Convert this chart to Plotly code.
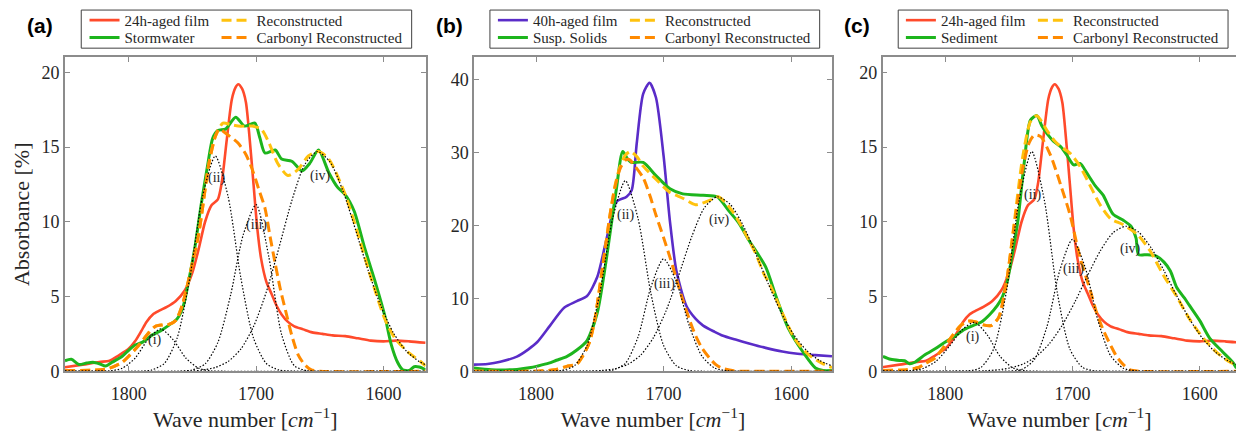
import plotly.graph_objects as go

# ---------------- data ----------------
# 24h-aged film (panels a and c)
FILM24_WN = [1850, 1836, 1823, 1815, 1808, 1800, 1795, 1790, 1786, 1781, 1776, 1770, 1763, 1756,
             1750, 1745, 1740, 1735, 1730, 1727, 1723, 1719, 1716, 1714, 1711, 1708, 1705, 1702,
             1699, 1696, 1692, 1688, 1684, 1680, 1675, 1670, 1663, 1656, 1648, 1640, 1630, 1620,
             1610, 1600, 1590, 1580, 1567]
FILM24_ABS = [0.26, 0.44, 0.62, 0.7, 1.05, 1.5, 2.0, 2.7, 3.3, 3.8, 4.05, 4.3, 4.7, 5.4,
              6.6, 8.2, 10.0, 11.1, 11.5, 12.6, 15.5, 18.2, 19.0, 19.2, 18.9, 18.0, 15.5, 12.5,
              9.5, 7.5, 6.0, 5.2, 4.4, 3.8, 3.3, 3.0, 2.8, 2.6, 2.5, 2.4, 2.35, 2.2,
              2.05, 2.0, 2.05, 2.0, 1.9]

# Panel (a): Stormwater
STORM_WN = [1850, 1845, 1839, 1833, 1828, 1823, 1818, 1813, 1805, 1800, 1795, 1789, 1782, 1775,
            1768, 1762, 1757, 1753, 1748, 1743, 1738, 1734, 1730, 1724, 1716, 1709, 1701, 1697,
            1693, 1685, 1680, 1672, 1664, 1658, 1651, 1643, 1636, 1630, 1623, 1615, 1607, 1599,
            1594, 1589, 1585, 1580, 1576, 1572, 1567]
STORM_ABS = [0.7, 0.8, 0.45, 0.55, 0.6, 0.5, 0.35, 0.6, 1.0, 1.4, 1.75, 1.95, 2.4, 2.7,
             3.1, 3.5, 4.4, 6.0, 8.3, 11.2, 13.8, 15.6, 16.1, 16.2, 17.0, 16.4, 16.6, 15.6,
             14.6, 14.8, 14.2, 14.05, 13.4, 13.9, 14.8, 13.3, 12.3, 11.8, 10.7, 8.3, 6.1, 3.7,
             1.8, 0.6, 0.1, 0.05, 0.3, 0.28, 0.1]
RECON_A_WN = [1850, 1825, 1815, 1805, 1800, 1792, 1784, 1779, 1773, 1768, 1763, 1758, 1753, 1745,
              1737, 1732, 1726, 1720, 1714, 1708, 1703, 1696, 1690, 1683, 1675, 1667, 1659, 1651,
              1643, 1630, 1620, 1610, 1599, 1591, 1581, 1571, 1567]
RECON_A_ABS = [0.05, 0.08, 0.2, 0.6, 1.0, 1.74, 2.6, 3.0, 3.1, 3.15, 3.4, 4.4, 6.1, 9.2,
               13.9, 15.7, 16.6, 16.5, 16.4, 16.4, 16.4, 16.2, 15.3, 13.9, 13.1, 13.5, 14.4, 14.7,
               14.2, 11.8, 9.15, 6.3, 3.5, 2.2, 1.3, 0.65, 0.35]
CARB_A_WN = [1850, 1825, 1815, 1805, 1800, 1792, 1784, 1779, 1773, 1768, 1763, 1758, 1753, 1745,
             1737, 1732, 1729, 1722, 1714, 1708, 1703, 1698, 1693, 1689, 1685, 1681, 1677, 1672,
             1667, 1662, 1657, 1650, 1567]
CARB_A_ABS = [0.05, 0.08, 0.2, 0.6, 1.0, 1.74, 2.6, 3.0, 3.1, 3.15, 3.4, 4.4, 6.1, 9.2,
              13.9, 15.7, 16.2, 15.8, 15.25, 14.5, 13.5, 12.2, 10.9, 9.0, 7.2, 5.5, 4.1, 2.4,
              1.1, 0.45, 0.1, 0.0, 0.0]
G1_A_WN = [1850, 1825, 1815, 1805, 1795, 1785, 1775, 1765, 1755, 1745, 1735, 1725, 1567]
G1_A_ABS = [0, 0, 0.02, 0.2, 0.87, 2.1, 2.83, 2.1, 0.87, 0.2, 0.02, 0, 0]
G2_A_WN = [1850, 1790, 1782, 1772, 1762, 1752, 1742, 1732, 1722, 1712, 1702, 1692, 1682, 1670, 1567]
G2_A_ABS = [0, 0, 0.08, 0.52, 2.21, 6.26, 11.7, 14.4, 11.7, 6.26, 2.21, 0.52, 0.08, 0, 0]
G3_A_WN = [1850, 1760, 1750, 1740, 1730, 1720, 1710, 1700, 1690, 1680, 1670, 1660, 1650, 1567]
G3_A_ABS = [0, 0, 0.09, 0.49, 1.92, 5.1, 9.16, 11.15, 7.64, 2.46, 0.37, 0.03, 0, 0]
G4_A_WN = [1850, 1752, 1742, 1732, 1722, 1712, 1702, 1692, 1682, 1672, 1662, 1652, 1642, 1632,
           1622, 1612, 1602, 1592, 1582, 1572, 1567]
G4_A_ABS = [0, 0.01, 0.08, 0.25, 0.65, 1.48, 2.99, 5.3, 8.28, 11.4, 13.8, 14.7, 14.0, 12.1,
            9.47, 6.73, 4.34, 2.53, 1.34, 0.65, 0.43]

# Panel (b): 40h-aged film and Susp. Solids
FILM40_WN = [1849, 1838, 1828, 1815, 1806, 1799, 1789, 1778, 1768, 1760, 1752, 1745, 1737, 1729,
             1725, 1721, 1716, 1711, 1706, 1700, 1695, 1690, 1682, 1675, 1669, 1660, 1654, 1643,
             1633, 1620, 1607, 1595, 1581, 1568]
FILM40_ABS = [0.9, 1.0, 1.3, 2.0, 3.0, 4.0, 6.25, 8.7, 9.6, 10.3, 12.9, 17.9, 23.2, 23.9,
              24.8, 31.3, 38.0, 39.5, 37.5, 29.5, 20.5, 13.8, 8.9, 7.2, 6.25, 5.4, 4.9, 4.3,
              3.8, 3.2, 2.7, 2.4, 2.2, 2.05]
SUSP_WN = [1849, 1835, 1815, 1804, 1799, 1790, 1784, 1776, 1768, 1760, 1752, 1745, 1737, 1732,
           1728, 1725, 1716, 1706, 1695, 1685, 1669, 1658, 1649, 1641, 1633, 1620, 1612, 1602,
           1591, 1581, 1575, 1568]
SUSP_ABS = [0.45, 0.2, 0.25, 0.5, 0.7, 1.1, 1.5, 2.0, 2.9, 4.2, 8.0, 15.2, 25.0, 30.1,
            29.0, 28.6, 28.6, 26.8, 25.0, 24.3, 24.1, 23.9, 22.0, 20.3, 17.9, 14.3, 10.3, 5.8,
            2.7, 0.45, 0.1, 0.1]
RECON_B_WN = [1849, 1800, 1785, 1776, 1768, 1762, 1758, 1754, 1750, 1746, 1742, 1738, 1734, 1730,
              1726, 1721, 1716, 1706, 1695, 1685, 1675, 1670, 1664, 1657, 1652, 1646, 1640, 1633,
              1628, 1621, 1617, 1607, 1597, 1586, 1576, 1568]
RECON_B_ABS = [0, 0, 0.2, 0.67, 1.0, 2.5, 4.0, 7.0, 11.6, 16.5, 21.4, 25.5, 28.1, 29.6,
               30.1, 29.4, 28.1, 26.3, 24.5, 23.7, 22.8, 23.0, 23.4, 23.9, 23.2, 21.9, 20.2, 17.9,
               16.2, 13.2, 12.0, 8.0, 4.4, 2.2, 1.1, 0.5]
CARB_B_WN = [1849, 1800, 1785, 1776, 1768, 1762, 1758, 1754, 1750, 1746, 1742, 1738, 1734, 1730,
             1727, 1722, 1716, 1711, 1706, 1700, 1695, 1690, 1685, 1680, 1675, 1670, 1664, 1659,
             1654, 1645, 1635, 1568]
CARB_B_ABS = [0, 0, 0.2, 0.67, 1.0, 2.5, 4.0, 7.0, 11.6, 16.5, 21.4, 25.3, 27.8, 28.9,
              29.0, 28.0, 26.5, 24.2, 21.4, 18.3, 15.6, 12.7, 9.8, 7.2, 4.9, 3.2, 1.8, 0.9,
              0.4, 0.05, 0, 0]
G2_B_WN = [1849, 1790, 1780, 1770, 1760, 1750, 1740, 1730, 1720, 1710, 1700, 1690, 1680, 1670, 1568]
G2_B_ABS = [0, 0, 0.1, 0.74, 3.53, 10.7, 20.9, 26.1, 20.9, 10.7, 3.53, 0.74, 0.1, 0, 0]
G3_B_WN = [1849, 1750, 1740, 1730, 1720, 1710, 1700, 1690, 1680, 1670, 1660, 1650, 1640, 1568]
G3_B_ABS = [0, 0, 0.14, 1.08, 4.7, 11.5, 15.4, 12.3, 6.3, 2.08, 0.44, 0.06, 0, 0]
G4_B_WN = [1849, 1758, 1748, 1738, 1728, 1718, 1708, 1698, 1688, 1678, 1668, 1658, 1648, 1638,
           1628, 1618, 1608, 1598, 1588, 1578, 1568]
G4_B_ABS = [0, 0.03, 0.11, 0.35, 0.94, 2.2, 4.6, 8.3, 13.2, 18.4, 22.4, 23.9, 22.9, 20.1,
            16.2, 12.0, 8.1, 5.0, 2.87, 1.5, 0.72]

# Panel (c): Sediment
SED_WN = [1849, 1843, 1836, 1832, 1828, 1824, 1816, 1808, 1800, 1793, 1785, 1777, 1772, 1765,
          1759, 1755, 1751, 1747, 1743, 1738, 1733, 1728, 1724, 1720, 1715, 1709, 1704, 1699,
          1694, 1689, 1682, 1676, 1668, 1660, 1654, 1650, 1648, 1641, 1634, 1628, 1623, 1618,
          1612, 1608, 1600, 1592, 1582, 1574, 1571]
SED_ABS = [1.0, 0.8, 0.72, 0.7, 0.5, 0.6, 1.1, 1.5, 1.96, 2.3, 2.8, 3.1, 3.27, 3.8,
           4.4, 5.0, 6.1, 8.0, 10.0, 13.9, 16.8, 17.1, 16.4, 15.9, 15.4, 15.0, 14.4, 13.8,
           13.9, 13.3, 12.4, 11.8, 10.5, 10.1, 9.7, 8.9, 7.8, 7.8, 7.7, 7.3, 6.7, 5.6,
           4.9, 4.4, 3.4, 2.2, 1.3, 0.6, 0.2]
RECON_C_WN = [1849, 1830, 1821, 1815, 1808, 1798, 1788, 1782, 1776, 1770, 1764, 1758, 1752, 1746,
              1739, 1733, 1728, 1720, 1714, 1709, 1702, 1694, 1686, 1678, 1670, 1660, 1649, 1639,
              1629, 1618, 1608, 1597, 1587, 1577, 1571]
RECON_C_ABS = [0.05, 0.1, 0.25, 0.55, 0.9, 1.96, 3.05, 3.35, 3.3, 3.1, 3.05, 3.6, 5.9, 9.8,
               14.4, 16.7, 17.1, 16.1, 15.4, 15.0, 14.6, 13.7, 12.4, 11.1, 10.2, 9.8, 9.15, 8.06,
               6.5, 5.0, 3.5, 2.2, 1.3, 0.65, 0.4]
CARB_C_WN = [1849, 1830, 1821, 1815, 1808, 1798, 1788, 1782, 1776, 1770, 1764, 1758, 1752, 1746,
             1739, 1734, 1730, 1725, 1717, 1709, 1702, 1694, 1686, 1681, 1676, 1670, 1665, 1660,
             1655, 1648, 1571]
CARB_C_ABS = [0.05, 0.1, 0.25, 0.55, 0.9, 1.96, 3.05, 3.35, 3.3, 3.1, 3.05, 3.6, 5.9, 9.6,
              13.6, 15.3, 15.8, 15.7, 14.4, 12.4, 10.5, 7.6, 5.4, 3.92, 2.8, 1.74, 0.95, 0.44,
              0.1, 0, 0]
G1_C_WN = [1849, 1837, 1827, 1817, 1807, 1797, 1787, 1777, 1767, 1757, 1747, 1737, 1727, 1571]
G1_C_ABS = [0, 0, 0.04, 0.2, 0.69, 1.64, 2.75, 3.27, 2.43, 1.0, 0.23, 0.03, 0, 0]
G2_C_WN = [1849, 1792, 1782, 1772, 1762, 1752, 1742, 1732, 1722, 1712, 1702, 1692, 1682, 1672, 1571]
G2_C_ABS = [0, 0, 0.02, 0.25, 1.48, 5.3, 11.4, 14.7, 11.4, 5.3, 1.48, 0.25, 0.02, 0, 0]
G3_C_WN = [1849, 1755, 1740, 1730, 1720, 1710, 1700, 1690, 1680, 1670, 1660, 1650, 1640, 1571]
G3_C_ABS = [0, 0, 0.11, 0.78, 3.0, 6.73, 8.82, 6.95, 3.41, 1.04, 0.2, 0.02, 0, 0]
G4_C_WN = [1849, 1778, 1768, 1758, 1748, 1738, 1728, 1718, 1708, 1698, 1688, 1678, 1668, 1658,
           1648, 1638, 1628, 1618, 1608, 1598, 1588, 1578, 1571]
G4_C_ABS = [0, 0.01, 0.04, 0.1, 0.24, 0.51, 1.02, 1.86, 3.08, 4.65, 6.42, 8.07, 9.27, 9.7,
            9.31, 8.24, 6.72, 5.05, 3.5, 2.23, 1.31, 0.71, 0.45]

# Labels
PANEL_LABELS = ["(a)", "(b)", "(c)"]
SAMPLE_NAMES = ["Stormwater", "Susp. Solids", "Sediment"]
FILM_NAMES = ["24h-aged film", "40h-aged film", "24h-aged film"]
RECON_NAME = "Reconstructed"
CARB_NAME = "Carbonyl Reconstructed"
COMP_LABELS = {
    0: [("(i)", 1779, 2.07), ("(ii)", 1730.7, 12.96), ("(iii)", 1699.5, 9.76), ("(iv)", 1649.2, 13.07)],
    1: [("(ii)", 1729.6, 21.4), ("(iii)", 1699.2, 11.96), ("(iv)", 1655.8, 20.76)],
    2: [("(i)", 1778.4, 2.29), ("(ii)", 1731.5, 11.76), ("(iii)", 1699, 6.86), ("(iv)", 1654.7, 8.17)],
}
X_TICKS = [1800, 1700, 1600]
Y_TICKS = [[0, 5, 10, 15, 20], [0, 10, 20, 30, 40], [0, 5, 10, 15, 20]]

# ---------------- styling ----------------
W, H = 1243, 433
RED = "#FF4A2B"
GREEN = "#1DB51D"
PURPLE = "#5A2CC8"
YELLOW = "#FFC20E"
ORANGE = "#FF8A00"
SERIF = "Liberation Serif, DejaVu Serif, serif"
SANS_BOLD = "Liberation Sans, Arial, DejaVu Sans, sans-serif"
TXT = "#262626"
AX = "#8C8C8C"

# pixel geometry of plot areas
X_PIX = [(65.3, 428.0), (476.7, 836.7), (887.7, 1243.0)]
Y_TOP, Y_BOT = 58.7, 380.0
X_RANGES = [[1850, 1567], [1848.6, 1568], [1849.2, 1571.4]]
Y_RANGES = [[0, 21], [0, 43], [0, 21]]
LEG_TEXT_X = [125.0, 535.7, 946.0]
LEG_BOX = [(81.7, 414.0), (492.7, 824.3), (903.3, 1235.0)]

panels = [
    dict(film=(FILM24_WN, FILM24_ABS, RED), samp=(STORM_WN, STORM_ABS),
         recon=(RECON_A_WN, RECON_A_ABS), carb=(CARB_A_WN, CARB_A_ABS),
         comps=[(G1_A_WN, G1_A_ABS), (G2_A_WN, G2_A_ABS), (G3_A_WN, G3_A_ABS), (G4_A_WN, G4_A_ABS)]),
    dict(film=(FILM40_WN, FILM40_ABS, PURPLE), samp=(SUSP_WN, SUSP_ABS),
         recon=(RECON_B_WN, RECON_B_ABS), carb=(CARB_B_WN, CARB_B_ABS),
         comps=[(G2_B_WN, G2_B_ABS), (G3_B_WN, G3_B_ABS), (G4_B_WN, G4_B_ABS)]),
    dict(film=(FILM24_WN, FILM24_ABS, RED), samp=(SED_WN, SED_ABS),
         recon=(RECON_C_WN, RECON_C_ABS), carb=(CARB_C_WN, CARB_C_ABS),
         comps=[(G1_C_WN, G1_C_ABS), (G2_C_WN, G2_C_ABS), (G3_C_WN, G3_C_ABS), (G4_C_WN, G4_C_ABS)]),
]

fig = go.Figure()
layout = dict(width=W, height=H, margin=dict(l=0, r=0, t=0, b=0),
              paper_bgcolor="white", plot_bgcolor="white", showlegend=True)
annotations = []
shapes = []
COL1_W = 87   # first legend column entry width (px)
COL2_W = 165  # second legend column entry width (px)

for i, p in enumerate(panels):
    sfx = "" if i == 0 else str(i + 1)
    xa, ya = "x" + sfx, "y" + sfx
    leg_r1 = "legend" if i == 0 else "legend%d" % (2 * i + 1)
    leg_r2 = "legend%d" % (2 * i + 2)
    spl = dict(shape="spline", smoothing=0.7)
    fwn, fab, fcol = p["film"]
    fig.add_trace(go.Scatter(x=fwn, y=fab, mode="lines", name=FILM_NAMES[i],
                             line=dict(color=fcol, width=2.6, **spl), legendwidth=COL1_W,
                             xaxis=xa, yaxis=ya, legend=leg_r1))
    fig.add_trace(go.Scatter(x=p["samp"][0], y=p["samp"][1], mode="lines", name=SAMPLE_NAMES[i],
                             line=dict(color=GREEN, width=3, **spl), legendwidth=COL1_W,
                             xaxis=xa, yaxis=ya, legend=leg_r2))
    fig.add_trace(go.Scatter(x=p["recon"][0], y=p["recon"][1], mode="lines", name=RECON_NAME,
                             line=dict(color=YELLOW, width=3, dash="10px,5px", **spl),
                             legendwidth=COL2_W, xaxis=xa, yaxis=ya, legend=leg_r1))
    fig.add_trace(go.Scatter(x=p["carb"][0], y=p["carb"][1], mode="lines", name=CARB_NAME,
                             line=dict(color=ORANGE, width=3, dash="10px,5px", **spl),
                             legendwidth=COL2_W, xaxis=xa, yaxis=ya, legend=leg_r2))
    for cw, ca in p["comps"]:
        fig.add_trace(go.Scatter(x=cw, y=ca, mode="lines", showlegend=False, hoverinfo="skip",
                                 line=dict(color="black", width=1.2, dash="1.5px,1.8px", **spl),
                                 xaxis=xa, yaxis=ya))

    x0, x1 = X_PIX[i]
    common = dict(showline=True, linecolor=AX, linewidth=1.5, ticks="inside", ticklen=5,
                  tickcolor=AX, tickwidth=1, showgrid=False, zeroline=False,
                  tickfont=dict(family=SERIF, size=18, color=TXT))
    layout["xaxis" + sfx] = dict(domain=[x0 / W, min(x1 / W, 1.0)], range=X_RANGES[i],
                                 tickvals=X_TICKS, anchor=ya, mirror="ticks",
                                 ticklabelstandoff=5,
                                 title=dict(text="Wave number [<i>cm</i><sup>\u22121</sup>]",
                                            font=dict(family=SERIF, size=22, color=TXT), standoff=4),
                                 **common)
    layout["yaxis" + sfx] = dict(domain=[1 - Y_BOT / H, 1 - Y_TOP / H], range=Y_RANGES[i],
                                 tickvals=Y_TICKS[i], anchor=xa,
                                 mirror=("ticks" if i < 2 else False), **common)
    if i == 0:
        layout["yaxis"]["title"] = dict(text="Absorbance [%]",
                                        font=dict(family=SERIF, size=22, color=TXT), standoff=6)

    # legends (two rows, each a horizontal legend)
    lx = (LEG_TEXT_X[i] - 40) / W
    for name, ytop in ((leg_r1, 4.0), (leg_r2, 21.7)):
        layout[name] = dict(orientation="h", x=lx, xanchor="left", y=1 - ytop / H, yanchor="top",
                            bgcolor="rgba(0,0,0,0)",
                            borderwidth=0, font=dict(family=SERIF, size=15, color=TXT),
                            itemclick=False, itemdoubleclick=False)
    bx0, bx1 = LEG_BOX[i]
    shapes.append(dict(type="rect", xref="paper", yref="paper", x0=bx0 / W, x1=bx1 / W,
                       y0=1 - 49.3 / H, y1=1 - 10.3 / H, line=dict(color="#404040", width=1),
                       fillcolor="rgba(0,0,0,0)", layer="above"))

    # panel letter
    annotations.append(dict(text="<b>%s</b>" % PANEL_LABELS[i], xref="paper", yref="paper",
                            x=[40.5, 452.0, 862.0][i] / W, y=1 - 26 / H, showarrow=False,
                            xanchor="center", yanchor="middle",
                            font=dict(family=SANS_BOLD, size=21, color="black")))
    for txt, wx, wy in COMP_LABELS[i]:
        annotations.append(dict(text=txt, x=wx, y=wy, xref=xa, yref=ya, showarrow=False,
                                xanchor="center", yanchor="middle",
                                font=dict(family=SERIF, size=14, color=TXT)))

layout["annotations"] = annotations
layout["shapes"] = shapes
fig.update_layout(**layout)
fig.write_html("out.html")
